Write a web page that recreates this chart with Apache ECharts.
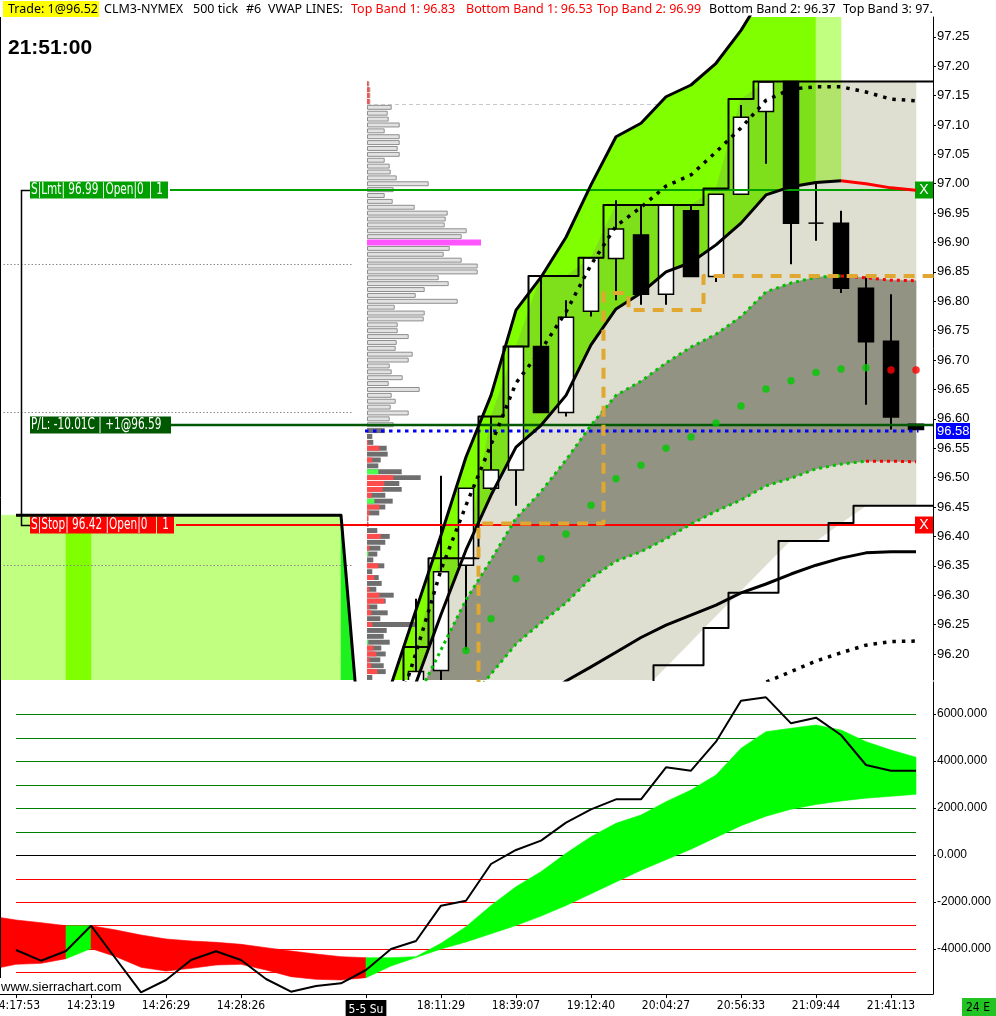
<!DOCTYPE html>
<html><head><meta charset="utf-8">
<script src="https://cdn.jsdelivr.net/npm/echarts@6/dist/echarts.min.js"></script>
<style>html,body{margin:0;padding:0;background:#fff}#c{width:996px;height:1016px}</style>
</head><body><div id="c"></div>
<script>
// ================= DATA =================
const timeTickBars   = [0, 3, 6, 9, 14, 17, 20, 23, 26, 29, 32, 35];
const timeTickLabels = ['14:17:53','14:23:19','14:26:29','14:28:26','5-5 Su','18:11:29','18:39:07','19:12:40','20:04:27','20:56:33','21:09:44','21:41:13'];
const sessionStartBar = 14;
const priceTicks = [96.20,96.25,96.30,96.35,96.40,96.45,96.50,96.55,96.60,96.65,96.70,96.75,96.80,96.85,96.90,96.95,97.00,97.05,97.10,97.15,97.20,97.25];
const oscTicks  = [6000, 4000, 2000, 0, -2000, -4000];
const oscLevels = [6000, 5000, 4000, 3000, 2000, 1000, 0, -1000, -2000, -3000, -4000, -5000];

// candles, bars 16..36 : [open, close, low, high]
const candleStart = 16;
const candles = [
  [96.100,96.170,96.080,96.294],[96.172,96.340,96.100,96.503],[96.351,96.482,96.207,96.482],
  [96.482,96.513,96.479,96.604],[96.513,96.723,96.452,96.723],[96.723,96.611,96.611,96.843],
  [96.611,96.773,96.604,96.802],[96.783,96.874,96.774,96.874],[96.873,96.923,96.802,96.972],
  [96.913,96.812,96.794,96.964],[96.812,96.964,96.794,96.964],[96.954,96.842,96.842,96.964],
  [96.842,96.982,96.833,96.982],[96.982,97.113,96.982,97.134],[97.123,97.173,97.034,97.173],
  [97.174,96.933,96.863,97.174],[96.933,96.933,96.903,97.003],[96.933,96.822,96.814,96.954],
  [96.822,96.731,96.624,96.842],[96.732,96.603,96.582,96.812],[96.591,96.582,96.582,96.591]
];

// previous session band (bars -1..14)
const prevStart = -1;
const prevTop   = [96.436,96.436,96.436,96.436,96.436,96.436,96.436,96.436,96.436,96.436,96.436,96.436,96.436,96.436,96.436,95.934];
const prevShade = [0,0,0,0,0,0,0,0,0,0,0,0,0,0,1];       // per segment
const prevInnerStart = 2;
const prevInnerTop = [96.409, 96.409];

// current session (bars from 14)
const sessStart = 14;
const outerBand = [96.020,96.147,96.275,96.402,96.535,96.640,96.785,96.841,96.909,96.998,97.080,97.103,97.148,97.168,97.205,97.261,97.330,97.380,97.420,97.450];
const topBand2  = [95.917,96.036,96.151,96.267,96.377,96.470,96.552,96.589,96.640,96.726,96.787,96.814,96.850,96.866,96.896,96.933,96.981,96.995,97.002,97.005,97.000,96.993,96.989];
const highStep  = [95.900,95.900,96.212,96.363,96.363,96.604,96.723,96.843,96.843,96.874,96.964,96.964,96.964,96.964,96.992,97.144,97.174,97.174,97.174,97.174,97.174,97.174,97.174];
const rangeLow  = [95.900,95.900,95.900,95.900,95.900,95.900,95.900,95.900,95.900,95.900,95.900,96.135,96.178,96.221,96.265,96.308,96.351,96.394,96.392,96.423,96.452,96.452,96.452];
const upperShade = [0,0,0,0,0,0,0,0,0,0,0,0,0,0,0,0,0,0,1];  // per segment 14..33
const topBand3Start = 15;
const topBand3  = [96.070,96.202,96.343,96.453,96.556,96.661,96.717,96.782,96.862,96.928,96.960,96.996,97.015,97.054,97.095,97.142,97.161,97.165,97.165,97.156,97.144,97.141];
const band1Start = 16;
const topBand1  = [96.122,96.207,96.292,96.360,96.431,96.476,96.530,96.589,96.640,96.664,96.695,96.722,96.744,96.774,96.816,96.831,96.841,96.843,96.840,96.836,96.835];
const botBand1  = [95.990,96.054,96.113,96.166,96.217,96.253,96.287,96.329,96.358,96.374,96.396,96.421,96.443,96.462,96.486,96.499,96.515,96.523,96.528,96.528,96.527];
const vwapStart = 17;
const vwap      = [96.139,96.206,96.260,96.328,96.362,96.404,96.453,96.498,96.521,96.550,96.569,96.593,96.622,96.651,96.665,96.679,96.685,96.687,96.683,96.683];
const vwapFalling = [0,0,0,0,0,0,0,0,0,0,0,0,0,0,0,0,0,0,1,1];
const botBand2Start = 20;
const botBand2  = [96.088,96.122,96.154,96.178,96.203,96.228,96.249,96.266,96.283,96.304,96.319,96.336,96.351,96.363,96.372,96.374,96.374];
const botBand3Start = 29;
const botBand3  = [96.130,96.152,96.170,96.188,96.202,96.215,96.221,96.222];
const lowStepStart = 25;
const lowStep   = [95.900,96.181,96.181,96.244,96.304,96.304,96.392,96.392,96.423,96.452,96.452,96.452];
const stopTrailStart = 18;
const stopTrail = [95.900,96.422,96.422,96.422,96.422,96.422,96.814,96.785,96.785,96.785,96.843,96.843,96.843,96.843,96.843,96.843,96.843,96.843,96.843];

// volume profile rows from 97.17 down by one tick
const profileTopPrice = 97.17;
const profileVol = [1.3,2.3,2.3,2.3,23.7,19.7,20.7,31.7,16.7,31.7,31.7,29.7,31.7,16.7,21.7,22.7,28.7,60.7,25.7,16.7,
  24.7,46.7,79.7,77.7,76.7,98.7,93.7,114,81.7,75.7,93.7,109.7,109.7,70.7,80.7,56.7,47.7,89.7,26.7,56.7,
  55.7,29.7,29.7,40.7,28.7,27.7,44.7,40.7,21.7,23.7,34.7,20.7,51.7,23.7,27.7,22.7,40.7,21.7,25.7,17.7,
  5.3,6.3,19.7,20.7,13.7,11.3,34.7,53.7,32.3,34.7,18.3,25.7,18.3,12.3,1.3,1.3,10.3,22.7,18.3,13.3,
  10.3,6.3,17.3,5.3,11.7,14.7,9.3,26.7,18.7,10.3,20.7,13.3,48,19.7,16.7,22.7,14.3,18.7,13.3,16.7,18.7,5.3];
const profileSell = [1.3,2.3,2.3,2.3,0,0,0,0,0,0,0,0,0,0,0,0,0,0,0,0,
  0,0,0,0,0,0,0,0,0,0,0,0,0,0,0,0,0,0,0,0,
  0,0,0,0,0,0,0,0,0,0,0,0,0,0,0,0,0,0,0,0,
  0,1.3,12.3,0,5.3,0,0,26.3,17.3,15.7,4.7,0,12.3,2.3,1.3,1.3,0,13.7,0,2.3,
  0,0,11.3,0,7.3,0,2.3,12.3,17.3,2.3,4.3,0,5.3,0,0,0,6.3,9.3,2.3,4.3,10.3,0];
const profileBuy = [0,0,0,0,0,0,0,0,0,0,0,0,0,0,0,0,0,0,0,0,
  0,0,0,0,0,0,0,0,0,0,0,0,0,0,0,0,0,0,0,0,
  0,0,0,0,0,0,0,0,0,0,0,0,0,0,0,0,0,0,0,0,
  0,0,0,0,0,0,11.3,0,0,0,0,7.3,0,0,0,0,0,0,0,0,
  1.3,0,0,0,0,0,0,0,0,0,0,0,0,0,0,1.3,0,0,0,0,0,0];
const valueAreaHigh = 97.135;

// orders / trade
const lmtPrice = 96.99,  lmtText = 'S|Lmt| 96.99 |Open|0',  lmtQty = '1';
const stopPrice = 96.42, stopText = 'S|Stop| 96.42 |Open|0', stopQty = '1';
const plPrice = 96.59,   plText = 'P/L: -10.01C | +1@96.59';
const lastPrice = 96.58, lastText = '96.58';
const priorLevels = [96.863, 96.611, 96.351];

// lower panel (bars -1..36)
const oscStart = -1;
const oscUpper = [-2600,-2766,-2880,-3008,-3008,-3191,-3404,-3574,-3660,-3716,-3801,-3943,-4085,-4213,-4326,-4370,-4370,-4326,-3759,-3050,
  -2150,-1348,-709,70,780,1348,1702,2270,2766,3404,4539,5248,5390,5532,5319,4823,4468,4156];
const oscLower = [-4870,-4652,-4610,-4411,-3980,-4326,-4780,-4936,-4823,-4681,-4652,-4894,-5177,-5291,-5319,-5220,-4723,-4360,-4000,-3700,
  -3350,-3000,-2600,-2150,-1650,-1150,-650,-200,250,750,1250,1650,1950,2150,2300,2420,2500,2580];
const oscState = [-1,-1,-1,1,-1,-1,-1,-1,-1,-1,-1,-1,-1,-1,-1,1,1,1,1,1,1,1,1,1,1,1,1,1,1,1,1,1,1,1,1,1,1];
const oscLineStart = 0;
const oscLine = [-4043,-4498,-4085,-3009,-4426,-5843,-5319,-4468,-4098,-4468,-5277,-5817,-5574,-5460,-4894,-4000,-3660,-2157,-1945,-383,
  213,610,1376,1943,2370,2370,3730,3589,4823,6567,6709,5603,5844,5106,3830,3589,3589];

// ================= CHART =================
const XMIN = -0.64, XMAX = 36.68;
const PMIN = 96.1557, PMAX = 97.2837, PMID = 96.7;
const OMIN = -5915, OMAX = 7362;
const NARROW = '"DejaVu Sans Condensed","Liberation Sans Narrow",sans-serif';
const SANS = '"Liberation Sans",Arial,sans-serif';

const C = {
  lightGreen:'#c0ff80', green:'#80ff00', breakGreen:'#1ef21e', darkGreen:'#7ee01a', fadedDark:'#b2e36a',
  lightGray:'#dfdfd1', darkGray:'#939384', dotGreen:'#00c000', red:'#ff0000'
};

function pts(start, arr) { return arr.map((v, i) => [start + i, v]); }
function extend(arr) { return arr.concat([arr[arr.length - 1]]); }

function bandSeries(start, top, bot, colors, gi, mid) {
  return {
    type: 'custom', xAxisIndex: gi, yAxisIndex: gi, clip: true, silent: true, animation: false,
    data: [[0, mid]], encode: {x: 0, y: 1},
    renderItem: (params, api) => {
      const children = [];
      const n = Math.min(top.length, bot.length) - 1;
      let i = 0;
      while (i < n) {
        const c = colors[i];
        if (!c) { i++; continue; }
        let j = i;
        while (j + 1 < n && colors[j + 1] === c) j++;
        const up = [], dn = [];
        for (let k = i; k <= j + 1; k++) {
          up.push(api.coord([start + k, top[k]]));
          dn.push(api.coord([start + k, bot[k]]));
        }
        children.push({type: 'polygon', shape: {points: up.concat(dn.reverse())},
          style: {fill: c, stroke: c, lineWidth: 0.6}});
        i = j + 1;
      }
      return {type: 'group', children};
    }
  };
}

function lineS(data, color, width, type, extra) {
  return Object.assign({
    type: 'line', xAxisIndex: 0, yAxisIndex: 0, data, symbol: 'none', silent: true, animation: false,
    clip: true, lineStyle: {color, width, type: type || 'solid', cap: 'butt', join: 'round'}
  }, extra || {});
}

const offBottom = n => new Array(n).fill(95.9);

const series = [];
// previous session fills
series.push(bandSeries(prevStart, prevTop, offBottom(prevTop.length), prevShade.map(s => s ? C.breakGreen : C.lightGreen), 0, PMID));
series.push(bandSeries(prevInnerStart, prevInnerTop, offBottom(2), [C.green], 0, PMID));
// current session fills
series.push(bandSeries(sessStart, highStep, rangeLow, highStep.map(() => C.lightGray), 0, PMID));
series.push(bandSeries(sessStart, outerBand, topBand2.slice(0, outerBand.length), upperShade.map(s => s ? C.lightGreen : C.green), 0, PMID));
series.push(bandSeries(sessStart, highStep.slice(0, outerBand.length), topBand2.slice(0, outerBand.length), upperShade.map(s => s ? C.fadedDark : C.darkGreen), 0, PMID));
series.push(bandSeries(band1Start, topBand1, botBand1, topBand1.map(() => C.darkGray), 0, PMID));

// volume profile
const pocIndex = profileVol.indexOf(Math.max(...profileVol));
series.push({
  type: 'custom', xAxisIndex: 1, yAxisIndex: 1, clip: true, silent: true, animation: false,
  data: profileVol.map((v, k) => [v, +(profileTopPrice - 0.01 * k).toFixed(2), profileSell[k], profileBuy[k], k]),
  encode: {x: 0, y: 1},
  renderItem: (params, api) => {
    const vol = api.value(0), p = api.value(1), sell = api.value(2), buy = api.value(3), k = api.value(4);
    const x0 = api.coord([0, p])[0];
    const yT = api.coord([0, p + 0.0042])[1], yB = api.coord([0, p - 0.0042])[1];
    const h = yB - yT;
    const w = api.coord([vol, p])[0] - x0;
    const ch = [];
    if (k === pocIndex) {
      ch.push({type: 'rect', shape: {x: x0, y: yT - 0.5, width: w, height: h + 1}, style: {fill: '#ff55ff'}});
    } else if (p > lastPrice) {
      ch.push({type: 'rect', shape: {x: x0 + 0.5, y: yT + 0.5, width: w, height: h - 1}, style: {fill: '#e2e2e2', stroke: '#8e8e8e', lineWidth: 1}});
    } else {
      ch.push({type: 'rect', shape: {x: x0, y: yT, width: w, height: h}, style: {fill: '#6e6e6e'}});
    }
    if (sell > 0) ch.push({type: 'rect', shape: {x: x0, y: yT, width: api.coord([sell, p])[0] - x0, height: h}, style: {fill: '#ff4d4d'}});
    if (buy > 0) ch.push({type: 'rect', shape: {x: x0, y: yT, width: api.coord([buy, p])[0] - x0, height: h}, style: {fill: '#4dff4d'}});
    return {type: 'group', children: ch};
  }
});

// lines
series.push(lineS(pts(sessStart, extend(highStep)).slice(1), '#000', 2, 'solid', {step: 'middle'}));
series.push(lineS(pts(lowStepStart, extend(lowStep)), '#000', 2, 'solid', {step: 'middle'}));
series.push(lineS(pts(prevStart, prevTop).slice(1), '#000', 3));
series.push(lineS(pts(sessStart, outerBand.slice(0, 17)), '#000', 3));
series.push(lineS(pts(sessStart, topBand2.slice(0, 20)), '#000', 3));
series.push(lineS(pts(33, topBand2.slice(19)), C.red, 3));
series.push(lineS(pts(botBand2Start, botBand2), '#000', 3));
series.push(lineS(pts(topBand3Start, topBand3), '#000', 3.5, [3.5, 6]));
series.push(lineS(pts(botBand3Start, botBand3), '#000', 3.5, [3.5, 6]));
series.push(lineS(pts(band1Start, topBand1.slice(0, 18)), C.dotGreen, 3, [3, 4]));
series.push(lineS(pts(33, topBand1.slice(17)), C.red, 3, [3, 4]));
series.push(lineS(pts(band1Start + 1, botBand1.slice(1, 19)), C.dotGreen, 3, [3, 4]));
series.push(lineS(pts(34, botBand1.slice(18)), C.red, 3, [3, 4]));
series.push(lineS(pts(stopTrailStart, extend(stopTrail)), '#e0a830', 4, [11, 8], {step: 'middle'}));

// VWAP dots
series.push({
  type: 'scatter', xAxisIndex: 0, yAxisIndex: 0, silent: true, animation: false, clip: true,
  symbol: 'circle', symbolSize: 7.5,
  data: vwap.map((v, i) => ({value: [vwapStart + i, v], itemStyle: {color: vwapFalling[i] ? C.red : '#00cc00'}}))
});

// candles
series.push({
  type: 'custom', xAxisIndex: 0, yAxisIndex: 0, clip: true, silent: true, animation: false,
  data: candles.map((c, i) => [candleStart + i].concat(c)),
  encode: {x: 0, y: [1, 2, 3, 4]},
  renderItem: (params, api) => {
    const x = api.value(0), o = api.value(1), c = api.value(2), l = api.value(3), h = api.value(4);
    const pO = api.coord([x, o]), pC = api.coord([x, c]), pL = api.coord([x, l]), pH = api.coord([x, h]);
    const w = api.size([1, 0])[0] * 0.6;
    const cx = Math.round(pO[0]);
    const top = Math.min(pO[1], pC[1]), bot = Math.max(pO[1], pC[1]);
    const ch = [{type: 'line', shape: {x1: cx, y1: pH[1], x2: cx, y2: pL[1]}, style: {stroke: '#000', lineWidth: 2}}];
    if (bot - top < 1.5) {
      ch.push({type: 'line', shape: {x1: cx - w / 2, y1: top, x2: cx + w / 2, y2: top}, style: {stroke: '#000', lineWidth: 1.5}});
    } else {
      ch.push({type: 'rect', shape: {x: cx - w / 2, y: top, width: w, height: bot - top},
        style: {fill: c >= o ? '#fff' : '#000', stroke: '#000', lineWidth: 1.5}});
    }
    return {type: 'group', children: ch};
  }
});

// orders & annotations
series.push({
  type: 'custom', xAxisIndex: 0, yAxisIndex: 0, clip: false, silent: true, animation: false,
  data: [[0, PMID]], encode: {x: 0, y: 1},
  renderItem: (params, api) => {
    const cs = params.coordSys;
    const R = cs.x + cs.width;
    const Y = p => Math.round(api.coord([0, p])[1]);
    const X = b => api.coord([b, PMID])[0];
    const ch = [];
    priorLevels.forEach(v => ch.push({type: 'line', shape: {x1: X(-0.5), y1: Y(v) + 0.5, x2: X(13.5), y2: Y(v) + 0.5},
      style: {stroke: '#8a8a8a', lineWidth: 1, lineDash: [1.5, 2]}}));
    ch.push({type: 'line', shape: {x1: X(14.04), y1: Y(valueAreaHigh) + 0.5, x2: X(25.64), y2: Y(valueAreaHigh) + 0.5},
      style: {stroke: '#c8c8c8', lineWidth: 1, lineDash: [4, 3]}});
    ch.push({type: 'line', shape: {x1: X(13.96), y1: Y(lastPrice), x2: X(36.1), y2: Y(lastPrice)},
      style: {stroke: '#0000ff', lineWidth: 3, lineDash: [3.5, 4.5]}});
    const font = '15px ' + NARROW;
    const txt = (text, x, y, align) => ({type: 'text', x, y, scaleX: 0.78,
      style: {text, fill: '#fff', font, verticalAlign: 'middle', align: align || 'left'}});
    const order = (price, text, qty, color, wMain, lineFrom) => {
      const y = Y(price);
      ch.push({type: 'line', shape: {x1: lineFrom, y1: y, x2: R, y2: y}, style: {stroke: color, lineWidth: 2}});
      ch.push({type: 'rect', shape: {x: 30, y: y - 8.5, width: wMain, height: 17}, style: {fill: color}});
      ch.push(txt(text, 31, y + 0.5));
      if (qty) {
        ch.push({type: 'rect', shape: {x: 31 + wMain, y: y - 8.5, width: 17, height: 17}, style: {fill: color}});
        ch.push(txt(qty, 39.5 + wMain, y + 0.5, 'center'));
      }
      ch.push({type: 'rect', shape: {x: R - 18, y: y - 8.5, width: 18, height: 17}, style: {fill: color}});
      ch.push({type: 'text', x: R - 9, y: y + 0.5, style: {text: 'X', fill: '#fff', font: '14px ' + SANS, verticalAlign: 'middle', align: 'center'}});
    };
    // bracket
    const yL = Y(lmtPrice), yS = Y(stopPrice);
    ch.push({type: 'polyline', shape: {points: [[30, yL + 0.5], [21.5, yL + 0.5], [21.5, yS + 0.5], [30, yS + 0.5]]}, style: {stroke: '#000', lineWidth: 1.5, fill: null}});
    order(lmtPrice, lmtText, lmtQty, '#00a000', 120, 170);
    order(stopPrice, stopText, stopQty, '#ff0000', 126, 176);
    const yP = Y(plPrice);
    ch.push({type: 'line', shape: {x1: 171, y1: yP, x2: R, y2: yP}, style: {stroke: '#005800', lineWidth: 2.5}});
    ch.push({type: 'rect', shape: {x: 30, y: yP - 8.5, width: 141, height: 17}, style: {fill: '#005800'}});
    ch.push(txt(plText, 31, yP + 0.5));
    const yB = Y(lastPrice);
    ch.push({type: 'rect', shape: {x: R + 3, y: yB - 8, width: 34, height: 16}, style: {fill: '#0000ff'}});
    ch.push({type: 'text', x: R + 4, y: yB + 0.5, style: {text: lastText, fill: '#fff', font: '13px ' + SANS, verticalAlign: 'middle', align: 'left'}});
    return {type: 'group', children: ch};
  }
});

// ---- lower panel ----
series.push({
  type: 'custom', xAxisIndex: 2, yAxisIndex: 2, clip: true, silent: true, animation: false,
  data: [[0, 0]], encode: {x: 0, y: 1},
  renderItem: (params, api) => ({
    type: 'group',
    children: oscLevels.map(v => {
      const y = Math.round(api.coord([0, v])[1]) + 0.5;
      return {type: 'line', shape: {x1: api.coord([0, v])[0], y1: y, x2: api.coord([36, v])[0], y2: y},
        style: {stroke: v > 0 ? '#008000' : (v < 0 ? '#ff0000' : '#000'), lineWidth: 1}};
    })
  })
});
series.push(bandSeries(oscStart, oscUpper, oscLower, oscState.map(s => s > 0 ? '#00ff00' : '#ff0000'), 2, 0));
series.push({
  type: 'line', xAxisIndex: 2, yAxisIndex: 2, data: pts(oscLineStart, oscLine), symbol: 'none', silent: true,
  animation: false, lineStyle: {color: '#000', width: 2}
});

const xLabelFmt = v => {
  const s = timeTickLabels[timeTickBars.indexOf(v)];
  return v === sessionStartBar ? '{box|' + s + '}' : s;
};

const option = {
  animation: false,
  backgroundColor: '#fff',
  grid: [
    {left: 0, width: 933, top: 17, height: 663, containLabel: false, outerBoundsMode: 'none'},
    {left: 367, width: 566, top: 17, height: 663, containLabel: false, outerBoundsMode: 'none'},
    {left: 0, width: 933, top: 682, height: 312, containLabel: false, outerBoundsMode: 'none'}
  ],
  xAxis: [
    {gridIndex: 0, type: 'value', min: XMIN, max: XMAX, show: false},
    {gridIndex: 1, type: 'value', min: 0, max: 566, show: false},
    {gridIndex: 2, type: 'value', min: XMIN, max: XMAX,
      axisLine: {show: true, onZero: false, lineStyle: {color: '#000', width: 1}},
      axisTick: {show: true, customValues: timeTickBars, length: 4, lineStyle: {color: '#000'}},
      splitLine: {show: false},
      axisLabel: {customValues: timeTickBars, formatter: xLabelFmt, color: '#000', fontFamily: NARROW, fontSize: 12, margin: 6,
        rich: {box: {backgroundColor: '#000', color: '#fff', fontFamily: NARROW, fontSize: 12, padding: [4, 3, 3, 3]}}}}
  ],
  yAxis: [
    {gridIndex: 0, type: 'value', position: 'right', min: PMIN, max: PMAX,
      axisLine: {show: true, onZero: false, lineStyle: {color: '#000', width: 1}},
      axisTick: {show: true, customValues: priceTicks, length: 3, lineStyle: {color: '#000'}},
      splitLine: {show: false},
      axisLabel: {customValues: priceTicks, formatter: v => v.toFixed(2), color: '#000', fontFamily: SANS, fontSize: 13, margin: 4}},
    {gridIndex: 1, type: 'value', min: PMIN, max: PMAX, show: false},
    {gridIndex: 2, type: 'value', position: 'right', min: OMIN, max: OMAX,
      axisLine: {show: true, onZero: false, lineStyle: {color: '#000', width: 1}},
      axisTick: {show: true, customValues: oscTicks, length: 3, lineStyle: {color: '#000'}},
      splitLine: {show: false},
      axisLabel: {customValues: oscTicks, formatter: v => v.toFixed(3), color: '#000', fontFamily: SANS, fontSize: 12, margin: 4}}
  ],
  series,
  graphic: {elements: [
    {type: 'line', shape: {x1: 0.5, y1: 17, x2: 0.5, y2: 978}, style: {stroke: '#000', lineWidth: 1}, z: 100},
    {type: 'rect', shape: {x: 3, y: 1, width: 96, height: 16}, style: {fill: '#ffff00'}, z: 100},
    ...[
      ['Trade: 1@96.52', 8, '#000'], ['CLM3-NYMEX', 104, '#000'], ['500 tick', 193, '#000'], ['#6', 246, '#000'],
      ['VWAP LINES:', 268, '#000'], ['Top Band 1: 96.83', 351, '#ff0000'], ['Bottom Band 1: 96.53', 466, '#ff0000'],
      ['Top Band 2: 96.99', 597, '#ff0000'], ['Bottom Band 2: 96.37', 709, '#000'], ['Top Band 3: 97.', 843, '#000']
    ].map(([t, x, c]) => ({type: 'text', x, y: 9.5, z: 101,
      style: {text: t, fill: c, font: '12.5px "Noto Sans",sans-serif', verticalAlign: 'middle', align: 'left'}})),
    {type: 'text', x: 8, y: 48, z: 101, style: {text: '21:51:00', fill: '#000', font: 'bold 21px ' + SANS, verticalAlign: 'middle', align: 'left'}},
    {type: 'text', x: 1, y: 987, z: 101, style: {text: 'www.sierrachart.com', fill: '#000', font: '13px ' + SANS, verticalAlign: 'middle', align: 'left'}},
    {type: 'rect', shape: {x: 962, y: 998, width: 34, height: 18}, style: {fill: '#22c322'}, z: 100},
    {type: 'text', x: 966, y: 1007.5, z: 101, style: {text: '24 E', fill: '#000', font: '12px ' + NARROW, verticalAlign: 'middle', align: 'left'}}
  ]}
};

const chart = echarts.init(document.getElementById('c'));
chart.setOption(option);
</script>
</body></html>
